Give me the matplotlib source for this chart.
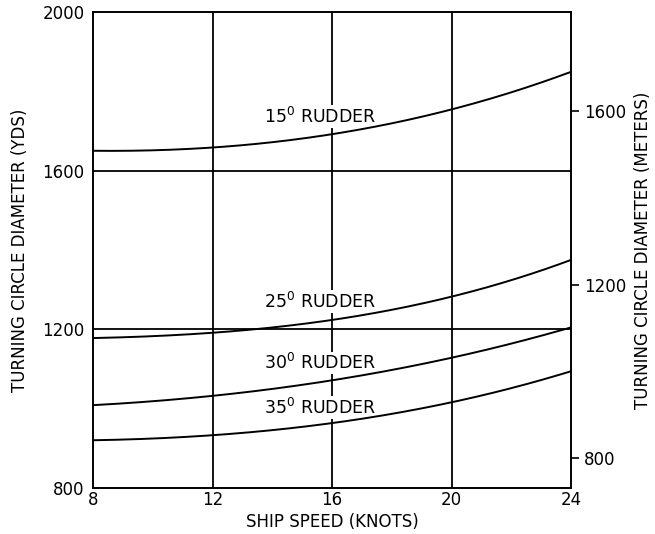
import matplotlib
matplotlib.use("Agg")
import matplotlib.pyplot as plt
import numpy as np

speed = [8, 12, 16, 20, 24]
rudder_15 = [1650, 1657, 1693, 1753, 1849]
rudder_25 = [1178, 1191, 1224, 1282, 1375]
rudder_30 = [1009, 1032, 1072, 1128, 1205]
rudder_35 = [921, 931, 967, 1014, 1095]
labels = ["15", "25", "30", "35"]
label_pos = [(15.6, 1735), (15.6, 1269), (15.6, 1115), (15.6, 1002)]
xticks = [8, 12, 16, 20, 24]
yticks = [800, 1200, 1600, 2000]
yticklabels = ["800", "1200", "1600", "2000"]
meter_ticks = [800, 1200, 1600]
YD_TO_M = 0.9144

plt.rcParams['font.family'] = ['DejaVu Sans']
fig = plt.figure(figsize=(6.55, 5.34), dpi=100)
ax = fig.add_axes([0.142, 0.086, 0.730, 0.892])

xs = np.linspace(8, 24, 200)
for ys in [rudder_15, rudder_25, rudder_30, rudder_35]:
    coef = np.polyfit(speed, ys, 3)
    ax.plot(xs, np.polyval(coef, xs), color='black', lw=1.4, zorder=3)

for x in [12, 16, 20]:
    ax.axvline(x, color='black', lw=1.3, zorder=1)
for y in [1200, 1600]:
    ax.axhline(y, color='black', lw=1.3, zorder=1)

for lab, (x, y) in zip(labels, label_pos):
    ax.text(x, y, lab + r"$^{\mathregular{0}}$ RUDDER", ha='center', va='center',
            fontsize=12.5, zorder=2,
            bbox=dict(facecolor='white', edgecolor='none', pad=1.0))

ax.set_xlim(8, 24)
ax.set_ylim(800, 2000)
ax.set_xticks(xticks)
ax.set_xticklabels([str(t) for t in xticks], fontsize=12)
ax.set_yticks(yticks)
ax.set_yticklabels(yticklabels, fontsize=12)
ax.tick_params(axis='x', length=0, pad=2)
ax.tick_params(axis='y', length=0, pad=6)
for s in ax.spines.values():
    s.set_linewidth(1.4)
ax.set_xlabel("SHIP SPEED (KNOTS)", fontsize=12, labelpad=3)
ax.set_ylabel("TURNING CIRCLE DIAMETER (YDS)", fontsize=12, labelpad=10)

ax2 = ax.twinx()
ax2.set_ylim(800 * YD_TO_M, 2000 * YD_TO_M)
ax2.set_yticks(meter_ticks)
ax2.set_yticklabels([str(t) for t in meter_ticks], fontsize=12)
ax2.tick_params(axis='y', length=6, width=1.2, pad=3)
for s in ax2.spines.values():
    s.set_visible(False)
ax2.set_ylabel("TURNING CIRCLE DIAMETER (METERS)", fontsize=12, labelpad=6)

fig.savefig("out.png", dpi=100, facecolor='white')
